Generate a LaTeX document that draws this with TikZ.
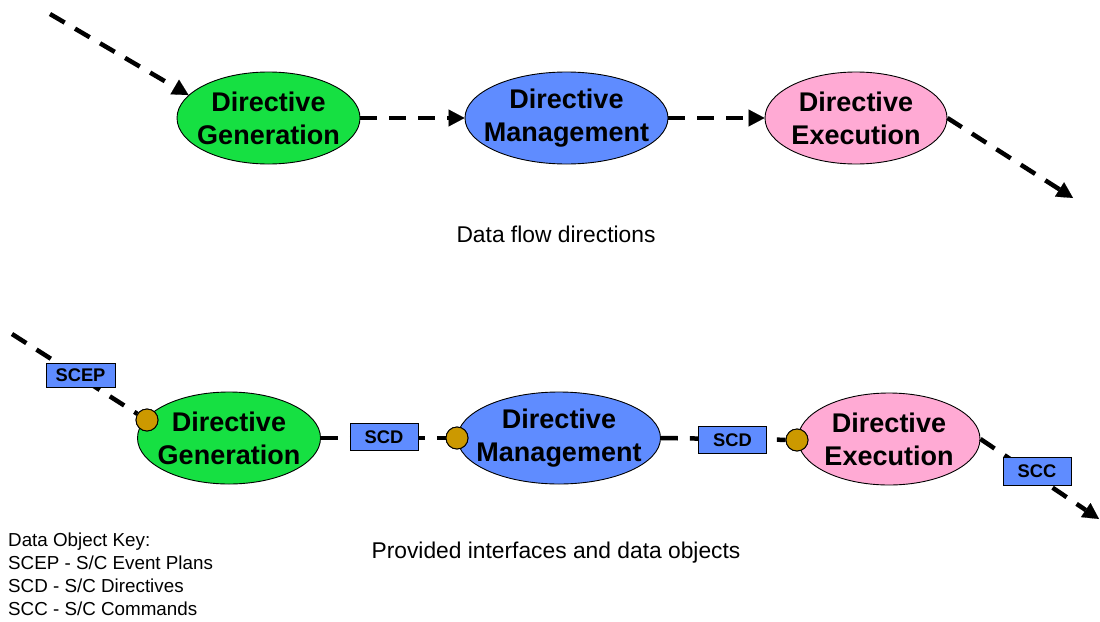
\documentclass[tikz,border=0pt]{standalone}
\usepackage{fontspec}
\setmainfont{Liberation Sans}
\usetikzlibrary{shapes.geometric,arrows.meta}
\definecolor{gengreen}{RGB}{22,224,66}
\definecolor{mgmtblue}{RGB}{95,140,255}
\definecolor{execpink}{RGB}{255,170,212}
\definecolor{portgold}{RGB}{204,153,0}
\tikzset{
  procnode/.style={ellipse, draw=black, line width=0.9pt, inner sep=0pt, minimum height=92pt},
  proctext/.style={align=center, inner sep=0pt, font=\fontsize{27}{33}\selectfont\bfseries},
  portnode/.style={circle, draw=black, line width=0.9pt, fill=portgold, minimum size=22pt, inner sep=0pt},
  objbox/.style={rectangle, draw=black, line width=0.9pt, fill=mgmtblue, minimum width=68pt, minimum height=27pt,
     inner sep=0pt, font=\fontsize{18.3}{20}\selectfont\bfseries},
  flowline/.style={line width=4.5pt, dash pattern=on 17pt off 12pt},
  flowarrow/.style={flowline, -{Triangle[length=16pt,width=17pt,line width=0.1pt]}},
  lbl/.style={font=\fontsize{22.8}{26}\selectfont},
}
\begin{document}
\begin{tikzpicture}[x=1pt,y=-1pt]
\useasboundingbox (0,0) rectangle (1100,621);
% top row
\node[procnode, fill=gengreen, minimum width=183pt] (g1) at (268.5,118) {};
\node[procnode, fill=mgmtblue, minimum width=203pt] (g2) at (566.5,118) {};
\node[procnode, fill=execpink, minimum width=182pt] (g3) at (856,118) {};
\node[proctext] (t1) at (g1) {Directive\\Generation};
\node[proctext] (t2) at (g2) {Directive\\Management};
\node[proctext] (t3) at (g3) {Directive\\Execution};
\coordinate (tin) at (50,14);
\coordinate (tout) at (1073,198);
\draw[flowarrow] (tin) -- (g1.164);
\draw[flowarrow] (g1.east) -- (g2.west);
\draw[flowarrow] (g2.east) -- (g3.west);
\draw[flowarrow] (g3.east) -- (tout);
\node[lbl] (cap1) at (556,234) {Data flow directions};
% bottom row
\node[procnode, fill=gengreen, minimum width=183pt] (g4) at (229,438) {};
\node[procnode, fill=mgmtblue, minimum width=203pt] (g5) at (559,438) {};
\node[procnode, fill=execpink, minimum width=182pt] (g6) at (889,439) {};
\node[proctext] (t4) at (g4) {Directive\\Generation};
\node[proctext] (t5) at (g5) {Directive\\Management};
\node[proctext] (t6) at (g6) {Directive\\Execution};
\coordinate (bin) at (12,334);
\coordinate (bout) at (1099,519);
\node[portnode] (p1) at (147,420) {};
\node[portnode] (p2) at (457,438) {};
\node[portnode] (p3) at (797,440) {};
\draw[flowline] (bin) -- (p1);
\draw[flowline] (g4.east) -- (p2);
\draw[flowline] (g5.east) -- (p3);
\draw[flowarrow] (g6.east) -- (bout);
\node[portnode] at (p1) {};
\node[portnode] at (p2) {};
\node[portnode] at (p3) {};
\node[objbox, minimum width=69pt, minimum height=24pt] (b1) at (80.5,375) {SCEP};
\node[objbox] (b2) at (384,437) {SCD};
\node[objbox] (b3) at (732.5,440) {SCD};
\node[objbox, minimum height=28pt] (b4) at (1037,471) {SCC};
\node[lbl] (cap2) at (556,553) {Provided interfaces and data objects};
\node[anchor=north west, align=left, inner sep=0pt, font=\fontsize{18.8}{23}\selectfont] (key) at (8,533)
  {Data Object Key:\\SCEP - S/C Event Plans\\SCD - S/C Directives\\SCC - S/C Commands};
\end{tikzpicture}
\end{document}
